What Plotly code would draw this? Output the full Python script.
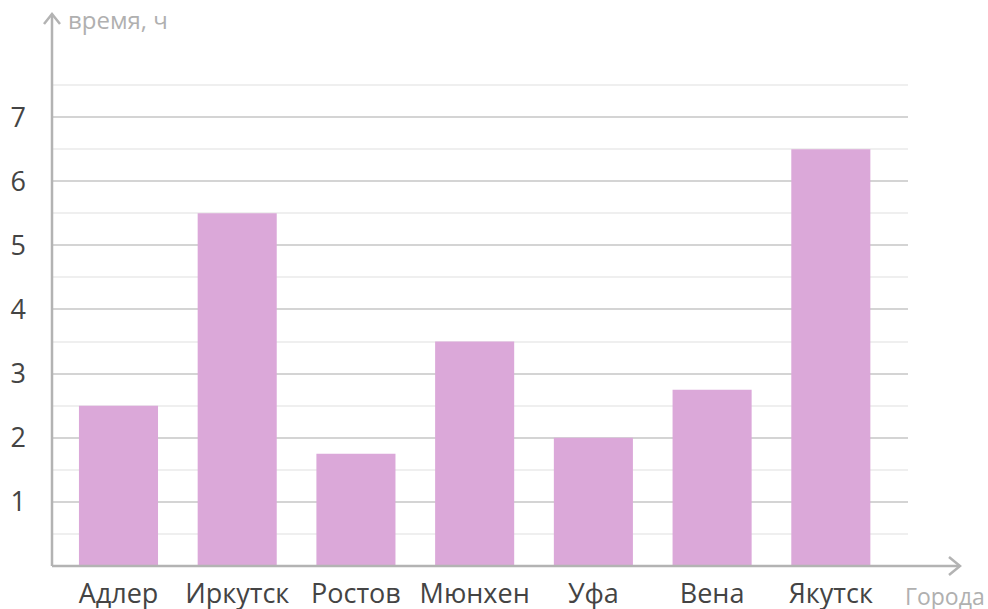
import plotly.graph_objects as go

cities = ["Адлер", "Иркутск", "Ростов", "Мюнхен", "Уфа", "Вена", "Якутск"]
hours = [2.5, 5.5, 1.75, 3.5, 2.0, 2.75, 6.5]
major_ticks = [1, 2, 3, 4, 5, 6, 7]
minor_ticks = [0.5, 1.5, 2.5, 3.5, 4.5, 5.5, 6.5, 7.5]
y_title = "время, ч"
x_title = "Города"

W, H = 988, 609
L, R, B, T = 52, 908, 566, 69          # plot edges in window pixels
YMAX = 7.75
pw, ph = R - L, B - T


def px(x):
    return (x - L) / pw


def py(y):
    return (B - y) / ph


fig = go.Figure(go.Bar(
    x=cities, y=hours,
    marker=dict(color="#dba8d9", line=dict(width=0)),
    hoverinfo="x+y",
))

axis_col = "#b3b3b3"
shapes = [
    dict(type="line", xref="paper", yref="paper", x0=0, x1=0, y0=0, y1=py(14),
         line=dict(color=axis_col, width=2.5)),
    dict(type="path", xref="paper", yref="paper",
         path=f"M {px(44)} {py(24)} L {px(52)} {py(14)} L {px(60)} {py(24)}",
         line=dict(color=axis_col, width=2.5)),
    dict(type="line", xref="paper", yref="paper", x0=0, x1=px(960), y0=0, y1=0,
         line=dict(color=axis_col, width=2.5)),
    dict(type="path", xref="paper", yref="paper",
         path=f"M {px(949)} {py(557)} L {px(960)} {py(566)} L {px(949)} {py(575)}",
         line=dict(color=axis_col, width=2.5)),
]

fig.update_layout(
    width=W, height=H,
    margin=dict(l=L, r=W - R, t=T, b=H - B, pad=0, autoexpand=False),
    paper_bgcolor="white", plot_bgcolor="white",
    font=dict(family="Open Sans", color="#444444", size=27),
    showlegend=False,
    bargap=0.334,
    shapes=shapes,
    xaxis=dict(
        type="category", range=[-0.56, 6.65], automargin=False,
        showgrid=False, zeroline=False, showline=False,
        ticks="", ticklabelstandoff=9,
        tickfont=dict(size=27, color="#444444"),
        fixedrange=True,
    ),
    yaxis=dict(
        range=[0, YMAX], tickvals=major_ticks, automargin=False,
        showgrid=True, gridcolor="#d4d4d4", gridwidth=1.5,
        zeroline=False, showline=False, ticks="",
        ticklabelstandoff=25,
        tickfont=dict(size=27, color="#444444"),
        minor=dict(tickvals=minor_ticks, showgrid=True, gridcolor="#efefef", gridwidth=1.5),
        fixedrange=True,
    ),
    annotations=[
        dict(text=y_title, xref="paper", yref="paper", x=px(66), y=py(20),
             xanchor="left", yanchor="middle", showarrow=False,
             font=dict(size=24, color="#b0b0b0", family="Open Sans")),
        dict(text=x_title, xref="paper", yref="paper", x=px(903), y=py(596),
             xanchor="left", yanchor="middle", showarrow=False,
             font=dict(size=23, color="#b0b0b0", family="Open Sans")),
    ],
)

fig.write_html(
    "out.html",
    config={"displayModeBar": False},
    post_script="document.body.style.margin='0';document.body.style.overflow='hidden';",
)
